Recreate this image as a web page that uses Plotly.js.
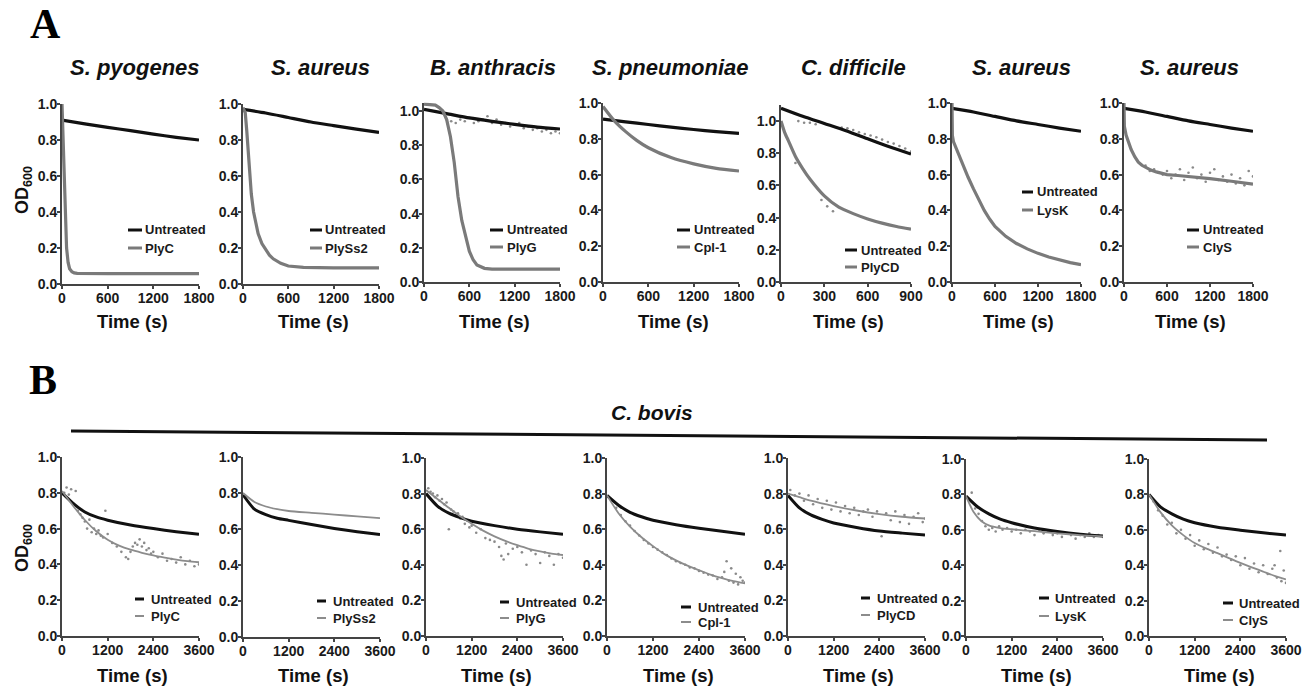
<!DOCTYPE html>
<html><head><meta charset="utf-8">
<script src="https://cdn.plot.ly/plotly-3.0.1.min.js"></script>
<style>html,body{margin:0;padding:0;background:#fff}#chart{width:1307px;height:690px}</style>
</head><body><div id="chart"></div>
<script>
// ---------------- DATA ----------------
const panelTitles = ['S. pyogenes','S. aureus','B. anthracis','S. pneumoniae','C. difficile','S. aureus','S. aureus'];
const enzymes = ['PlyC','PlySs2','PlyG','Cpl-1','PlyCD','LysK','ClyS'];
const untreatedLabel = 'Untreated';
const bottomTitle = 'C. bovis';
const xTitle = 'Time (s)';
const yTitle = 'OD<sub>600</sub>';
const yTickVals = [0,0.2,0.4,0.6,0.8,1.0];
const yTickText = ['0.0','0.2','0.4','0.6','0.8','1.0'];
const topTicks = [0,600,1200,1800];
const cdTicks = [0,300,600,900];
const botTicks = [0,1200,2400,3600];

// Panel A - untreated
const tTop = [0,300,600,900,1200,1500,1800];
const tCd = [0,150,300,450,600,750,900];
const a1Unt = [0.91,0.89,0.87,0.852,0.833,0.815,0.80];
const a2Unt = [0.97,0.95,0.925,0.90,0.88,0.86,0.842];
const a3Unt = [1.01,0.985,0.96,0.94,0.922,0.906,0.895];
const a4Unt = [0.91,0.895,0.88,0.865,0.852,0.84,0.83];
const a5Unt = [1.08,1.03,0.985,0.94,0.89,0.84,0.795];
const a6Unt = [0.97,0.95,0.925,0.90,0.88,0.86,0.842];
const a7Unt = [0.97,0.95,0.925,0.90,0.88,0.86,0.842];
// Panel A - treated
const a1TrtX = [0,15,30,45,60,80,100,130,160,200,300,600,1200,1800];
const a1TrtY = [1.0,0.8,0.55,0.35,0.2,0.12,0.085,0.068,0.062,0.059,0.058,0.058,0.058,0.058];
const a2TrtX = [0,30,50,80,110,140,170,200,250,300,350,400,500,600,800,1200,1800];
const a2TrtY = [0.98,0.95,0.85,0.65,0.5,0.4,0.33,0.28,0.225,0.19,0.16,0.14,0.115,0.1,0.092,0.09,0.09];
const a3TrtX = [0,150,200,250,300,350,400,450,500,550,600,650,700,800,900,1800];
const a3TrtY = [1.04,1.035,1.02,1.0,0.95,0.85,0.7,0.5,0.36,0.26,0.18,0.13,0.1,0.08,0.075,0.075];
const a4TrtX = [0,150,300,450,600,900,1200,1500,1800];
const a4TrtY = [0.98,0.9,0.84,0.79,0.75,0.695,0.66,0.635,0.62];
const a5TrtX = [0,25,50,100,150,200,300,400,500,600,700,800,900];
const a5TrtY = [1.0,0.93,0.88,0.78,0.705,0.64,0.535,0.465,0.425,0.392,0.366,0.345,0.328];
const a6TrtX = [0,5,20,75,150,225,300,375,450,525,600,750,900,1050,1200,1350,1500,1650,1800];
const a6TrtY = [1.0,0.82,0.785,0.73,0.655,0.585,0.52,0.455,0.4,0.352,0.31,0.255,0.215,0.185,0.16,0.14,0.123,0.108,0.097];
const a7TrtX = [0,5,30,60,100,150,200,250,300,375,450,525,600,750,900,1200,1500,1800];
const a7TrtY = [1.0,0.87,0.82,0.78,0.74,0.70,0.67,0.652,0.64,0.625,0.615,0.607,0.6,0.595,0.59,0.578,0.563,0.547];
// Panel A - raw points
const a3DotX = [300,360,420,480,540,600,660,720,780,840,900,960,1020,1080,1140,1200,1260,1320,1380,1440,1500,1560,1620,1680,1740,1800];
const a3DotY = [0.95,0.94,0.93,0.95,0.94,0.96,0.93,0.94,0.95,0.97,0.93,0.95,0.92,0.93,0.91,0.92,0.93,0.9,0.91,0.89,0.9,0.88,0.89,0.87,0.88,0.87];
const a5DotX = [100,120,160,200,240,280,320,360,420,460,500,540,580,620,660,700,740,780,820,860,900];
const a5DotY = [0.74,1.0,0.99,0.99,0.98,0.51,0.47,0.44,0.96,0.955,0.945,0.93,0.92,0.91,0.9,0.885,0.87,0.86,0.845,0.83,0.81];
const a7DotX = [300,360,420,480,540,600,660,720,780,840,900,960,1020,1080,1140,1200,1260,1320,1380,1440,1500,1560,1620,1680,1740,1800];
const a7DotY = [0.65,0.62,0.63,0.61,0.6,0.62,0.58,0.6,0.63,0.57,0.61,0.64,0.58,0.6,0.56,0.61,0.63,0.57,0.59,0.56,0.6,0.55,0.58,0.54,0.62,0.59];

// Panel B - untreated
const tBot = [0,300,600,900,1200,1800,2400,3000,3600];
const b1Unt = [0.8,0.74,0.693,0.665,0.647,0.62,0.6,0.583,0.569];
const b2Unt = [0.79,0.71,0.68,0.66,0.648,0.625,0.603,0.585,0.57];
const b3Unt = [0.8,0.73,0.69,0.665,0.645,0.62,0.6,0.585,0.572];
const b4Unt = [0.79,0.735,0.695,0.67,0.65,0.625,0.605,0.588,0.572];
const b5Unt = [0.79,0.72,0.68,0.655,0.635,0.61,0.59,0.578,0.567];
const b6Unt = [0.79,0.73,0.69,0.66,0.64,0.61,0.59,0.575,0.565];
const b7Unt = [0.8,0.73,0.69,0.66,0.64,0.615,0.598,0.583,0.57];
// Panel B - treated
const tBot2 = [0,300,600,900,1200,1500,1800,2100,2400,2700,3000,3300,3600];
const b1Trt = [0.81,0.725,0.648,0.585,0.538,0.505,0.482,0.465,0.45,0.438,0.427,0.418,0.412];
const b2Trt = [0.8,0.75,0.725,0.71,0.7,0.69,0.68,0.67,0.66];
const b3Trt = [0.82,0.77,0.72,0.673,0.63,0.592,0.56,0.533,0.51,0.49,0.475,0.463,0.455];
const b4Trt = [0.79,0.69,0.615,0.555,0.505,0.46,0.425,0.395,0.37,0.345,0.325,0.308,0.295];
const b5TrtX = [0,300,600,1200,1800,2400,3000,3600];
const b5Trt = [0.8,0.78,0.76,0.73,0.705,0.685,0.67,0.66];
const b6TrtX = [0,200,400,600,900,1200,1800,2400,3000,3600];
const b6Trt = [0.79,0.7,0.65,0.625,0.61,0.603,0.592,0.58,0.57,0.563];
const b7Trt = [0.8,0.7,0.625,0.57,0.525,0.495,0.468,0.44,0.413,0.388,0.364,0.34,0.32];
// Panel B - raw points
const b1DotX = [60,120,180,240,300,360,420,480,540,600,660,720,780,840,900,960,1020,1080,1140,1200,1320,1440,1560,1680,1740,1800,1860,1920,1980,2040,2100,2160,2220,2280,2340,2400,2520,2640,2760,2880,3000,3120,3240,3360,3480,3600];
const b1DotY = [0.8,0.83,0.79,0.82,0.74,0.81,0.7,0.68,0.66,0.64,0.6,0.65,0.58,0.6,0.57,0.59,0.56,0.55,0.7,0.57,0.52,0.5,0.47,0.44,0.43,0.47,0.5,0.52,0.51,0.54,0.5,0.52,0.48,0.49,0.46,0.47,0.44,0.46,0.42,0.43,0.41,0.44,0.4,0.42,0.39,0.4];
const b3DotX = [60,120,180,240,300,360,420,480,540,600,660,720,780,840,900,960,1020,1080,1140,1200,1320,1440,1560,1680,1800,1920,1980,2040,2100,2160,2280,2400,2520,2640,2760,2880,3000,3120,3240,3360,3480,3600];
const b3DotY = [0.83,0.81,0.8,0.78,0.79,0.76,0.77,0.74,0.75,0.6,0.71,0.7,0.68,0.69,0.66,0.67,0.63,0.65,0.61,0.62,0.58,0.6,0.55,0.54,0.53,0.5,0.45,0.43,0.52,0.46,0.49,0.5,0.47,0.4,0.48,0.46,0.41,0.47,0.45,0.4,0.46,0.44];
const b4DotX = [120,240,360,480,600,720,840,960,1080,1200,1320,1440,1560,1680,1800,1920,2040,2160,2280,2400,2520,2640,2760,2880,3000,3060,3120,3180,3240,3300,3360,3420,3480,3540,3600];
const b4DotY = [0.76,0.72,0.68,0.645,0.62,0.59,0.565,0.54,0.52,0.5,0.485,0.47,0.455,0.435,0.42,0.41,0.4,0.385,0.38,0.365,0.355,0.345,0.34,0.32,0.33,0.36,0.42,0.31,0.38,0.3,0.35,0.29,0.33,0.31,0.3];
const b5DotX = [60,180,300,420,540,660,780,900,1020,1140,1260,1380,1500,1620,1740,1860,1980,2100,2220,2340,2460,2580,2700,2820,2940,3060,3180,3300,3420,3540,3600];
const b5DotY = [0.82,0.79,0.8,0.76,0.79,0.74,0.77,0.72,0.76,0.71,0.75,0.7,0.73,0.69,0.72,0.68,0.7,0.71,0.67,0.7,0.56,0.69,0.65,0.7,0.64,0.68,0.63,0.67,0.69,0.64,0.66];
const b6DotX = [60,150,240,330,420,510,600,690,780,870,960,1080,1200,1320,1440,1560,1680,1800,1920,2040,2160,2280,2400,2520,2640,2760,2880,3000,3120,3240,3360,3480,3600];
const b6DotY = [0.77,0.81,0.72,0.69,0.65,0.62,0.6,0.61,0.59,0.62,0.6,0.61,0.59,0.6,0.58,0.6,0.59,0.57,0.6,0.58,0.59,0.57,0.58,0.56,0.58,0.57,0.55,0.57,0.56,0.58,0.56,0.57,0.56];
const b7DotX = [120,240,360,480,600,720,840,960,1080,1200,1320,1440,1560,1680,1800,1920,2040,2160,2280,2400,2520,2640,2760,2880,3000,3120,3240,3300,3360,3450,3480,3540,3600];
const b7DotY = [0.76,0.71,0.68,0.63,0.64,0.58,0.6,0.55,0.57,0.51,0.54,0.49,0.52,0.47,0.5,0.45,0.46,0.43,0.45,0.4,0.44,0.38,0.41,0.36,0.4,0.35,0.38,0.4,0.33,0.48,0.31,0.37,0.3];

// ---------------- LAYOUT ----------------
const W = 1307, H = 690;
const px = v => v / W;
const py = v => 1 - v / H;
const FONT = 'Liberation Sans, Arial, sans-serif';

const panels = [
  {box:[62,199,104,284],   xr:[0,1800], xt:topTicks, yr:[0,1.0],  unt:[tTop,a1Unt], trt:[a1TrtX,a1TrtY], shape:'linear', leg:[128,142,143,230,248], top:true},
  {box:[243,379,104,284],  xr:[0,1800], xt:topTicks, yr:[0,1.0],  unt:[tTop,a2Unt], trt:[a2TrtX,a2TrtY], shape:'linear', leg:[310,322,323,230,248], top:true},
  {box:[424,560,102.5,282],xr:[0,1800], xt:topTicks, yr:[0,1.05], unt:[tTop,a3Unt], trt:[a3TrtX,a3TrtY], shape:'linear', dots:[a3DotX,a3DotY], leg:[490,503,505,230,247], top:true},
  {box:[603,739,103,282],  xr:[0,1800], xt:topTicks, yr:[0,1.0],  unt:[tTop,a4Unt], trt:[a4TrtX,a4TrtY], shape:'spline', leg:[677,690,692,230,247], top:true},
  {box:[781,911,105,282],  xr:[0,900],  xt:cdTicks,  yr:[0,1.1],  unt:[tCd,a5Unt],  trt:[a5TrtX,a5TrtY], shape:'spline', dots:[a5DotX,a5DotY], leg:[845,857,859,250,267], top:true},
  {box:[952,1081,103,282], xr:[0,1800], xt:topTicks, yr:[0,1.0],  unt:[tTop,a6Unt], trt:[a6TrtX,a6TrtY], shape:'linear', leg:[1022,1033,1035,192,210], top:true},
  {box:[1124,1253,103,282],xr:[0,1800], xt:topTicks, yr:[0,1.0],  unt:[tTop,a7Unt], trt:[a7TrtX,a7TrtY], shape:'linear', dots:[a7DotX,a7DotY], leg:[1187,1199,1201,230,247], top:true},
  {box:[62,199,457,636],   xr:[0,3600], xt:botTicks, yr:[0,1.0], unt:[tBot,b1Unt], trt:[tBot2,b1Trt], shape:'spline', dots:[b1DotX,b1DotY], leg:[135,144,149,599,616]},
  {box:[243,380,457,637],  xr:[0,3600], xt:botTicks, yr:[0,1.0], unt:[tBot,b2Unt], trt:[tBot,b2Trt],  shape:'spline', leg:[317,326,331,601,618]},
  {box:[426,563,458,636],  xr:[0,3600], xt:botTicks, yr:[0,1.0], unt:[tBot,b3Unt], trt:[tBot2,b3Trt], shape:'spline', dots:[b3DotX,b3DotY], leg:[500,509,514,602,618]},
  {box:[607,745,458,636],  xr:[0,3600], xt:botTicks, yr:[0,1.0], unt:[tBot,b4Unt], trt:[tBot2,b4Trt], shape:'spline', dots:[b4DotX,b4DotY], leg:[681,691,696,607,622]},
  {box:[788,925,458,636],  xr:[0,3600], xt:botTicks, yr:[0,1.0], unt:[tBot,b5Unt], trt:[b5TrtX,b5Trt], shape:'spline', dots:[b5DotX,b5DotY], leg:[861,870,875,598,615]},
  {box:[966,1103,459,636], xr:[0,3600], xt:botTicks, yr:[0,1.0], unt:[tBot,b6Unt], trt:[b6TrtX,b6Trt], shape:'spline', dots:[b6DotX,b6DotY], leg:[1039,1049,1053,598,616]},
  {box:[1149,1286,459,636],xr:[0,3600], xt:botTicks, yr:[0,1.0], unt:[tBot,b7Unt], trt:[tBot2,b7Trt], shape:'spline', dots:[b7DotX,b7DotY], leg:[1223,1233,1237,603,620]}
];

const traces = [];
const layout = {
  width: W, height: H, margin:{l:0,r:0,t:0,b:0},
  paper_bgcolor:'#fff', plot_bgcolor:'rgba(0,0,0,0)', showlegend:false,
  annotations: [], shapes: []
};
const tickFont = {family:FONT, size:14, weight:'bold', color:'#1a1a1a'};

panels.forEach((p, i) => {
  const n = i === 0 ? '' : String(i + 1);
  const xa = 'x' + n, ya = 'y' + n;
  const b = p.box;
  layout['xaxis' + n] = {
    domain:[px(b[0]), px(b[1])], range:p.xr, tickvals:p.xt, ticktext:p.xt.map(String), anchor:ya,
    showline:true, linewidth:2, linecolor:'#444', ticks:'outside', ticklen:3, tickwidth:2, tickcolor:'#444',
    ticklabelstandoff:-3,
    showgrid:false, zeroline:false, tickfont:tickFont, fixedrange:true
  };
  layout['yaxis' + n] = {
    domain:[py(b[3]), py(b[2])], range:p.yr, tickvals:yTickVals, ticktext:yTickText, anchor:xa,
    showline:true, linewidth:2, linecolor:'#444', ticks:'outside', ticklen:3, tickwidth:2, tickcolor:'#444',
    ticklabelstandoff:-3,
    showgrid:false, zeroline:false, tickfont:tickFont, fixedrange:true
  };
  const lw = p.top ? 3.2 : 3;
  const gw = p.top ? 3.2 : 1.8;
  const gcol = p.top ? '#7a7a7a' : '#8c8c8c';
  if (p.dots) {
    traces.push({type:'scatter', mode:'markers', x:p.dots[0], y:p.dots[1], xaxis:xa, yaxis:ya,
      marker:{size:2.6, color:'#8a8a8a'}, hoverinfo:'skip'});
  }
  traces.push({type:'scatter', mode:'lines', x:p.unt[0], y:p.unt[1], xaxis:xa, yaxis:ya, name:untreatedLabel,
    line:{color:'#111', width:lw, shape:'spline', smoothing:0.6}, hoverinfo:'skip'});
  traces.push({type:'scatter', mode:'lines', x:p.trt[0], y:p.trt[1], xaxis:xa, yaxis:ya, name:enzymes[i % 7],
    line:{color:gcol, width:gw, shape:p.shape, smoothing:0.6}, hoverinfo:'skip'});

  // legend
  const L = p.leg;
  layout.shapes.push({type:'line', xref:'paper', yref:'paper', x0:px(L[0]), x1:px(L[1]), y0:py(L[3]), y1:py(L[3]),
    line:{color:'#111', width:3}});
  layout.shapes.push({type:'line', xref:'paper', yref:'paper', x0:px(L[0]), x1:px(L[1]), y0:py(L[4]), y1:py(L[4]),
    line:{color:gcol, width:p.top ? 3 : 2}});
  layout.annotations.push({xref:'paper', yref:'paper', x:px(L[2]), y:py(L[3]), xanchor:'left', yanchor:'middle',
    text:untreatedLabel, showarrow:false, font:{family:FONT, size:13, weight:'bold', color:'#1a1a1a'}});
  layout.annotations.push({xref:'paper', yref:'paper', x:px(L[2]), y:py(L[4]), xanchor:'left', yanchor:'middle',
    text:enzymes[i % 7], showarrow:false, font:{family:FONT, size:13, weight:'bold', color:'#1a1a1a'}});

  // x title
  layout.annotations.push({xref:'paper', yref:'paper', x:px((b[0] + b[1]) / 2 + 2), y:py(p.top ? 321 : 675),
    xanchor:'center', yanchor:'middle', text:xTitle, showarrow:false,
    font:{family:FONT, size:18.5, weight:'bold', color:'#111'}});
});

// panel titles (row A)
const titleCenters = [135, 320, 493, 670, 853, 1021, 1189];
panelTitles.forEach((t, i) => {
  layout.annotations.push({xref:'paper', yref:'paper', x:px(titleCenters[i]), y:py(68), xanchor:'center', yanchor:'middle',
    text:'<i>' + t + '</i>', showarrow:false, font:{family:FONT, size:22, weight:'bold', color:'#111'}});
});
// y titles
[190, 548].forEach(yc => {
  layout.annotations.push({xref:'paper', yref:'paper', x:px(23), y:py(yc), xanchor:'center', yanchor:'middle',
    text:yTitle, textangle:-90, showarrow:false, font:{family:FONT, size:18, weight:'bold', color:'#111'}});
});
// Panel letters
layout.annotations.push({xref:'paper', yref:'paper', x:px(45), y:py(24), xanchor:'center', yanchor:'middle',
  text:'A', showarrow:false, font:{family:'Liberation Serif, Times New Roman, serif', size:42, weight:'bold', color:'#000'}});
layout.annotations.push({xref:'paper', yref:'paper', x:px(43), y:py(380), xanchor:'center', yanchor:'middle',
  text:'B', showarrow:false, font:{family:'Liberation Serif, Times New Roman, serif', size:42, weight:'bold', color:'#000'}});
// C. bovis header + bar
layout.annotations.push({xref:'paper', yref:'paper', x:px(652), y:py(413), xanchor:'center', yanchor:'middle',
  text:'<i>' + bottomTitle + '</i>', showarrow:false, font:{family:FONT, size:21, weight:'bold', color:'#111'}});
layout.shapes.push({type:'line', xref:'paper', yref:'paper', x0:px(71), y0:py(431), x1:px(1267), y1:py(440),
  line:{color:'#111', width:3}});

Plotly.newPlot('chart', traces, layout, {staticPlot:true, displayModeBar:false});
</script>
</body></html>
